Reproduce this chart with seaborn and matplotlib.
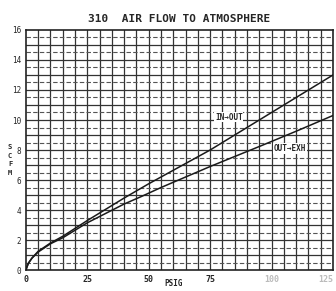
import matplotlib
matplotlib.use("Agg")
import matplotlib.pyplot as plt
import seaborn as sns
import numpy as np
import pandas as pd

# curve readings (psig, scfm)
psig_in = [0, 1, 2.5, 5, 10, 15, 25, 40, 50, 60, 75, 96, 110, 125]
scfm_in = [0, 0.45, 0.8, 1.25, 1.8, 2.25, 3.3, 4.8, 5.75, 6.65, 8.0, 10.1, 11.5, 13.0]
psig_out = [0, 1, 2.5, 5, 10, 15, 25, 40, 47, 55, 75, 96, 110, 125]
scfm_out = [0, 0.45, 0.8, 1.2, 1.75, 2.15, 3.15, 4.4, 4.9, 5.5, 6.9, 8.3, 9.25, 10.3]
x_ticks = [0, 25, 50, 75, 100, 125]
y_ticks = [0, 2, 4, 6, 8, 10, 12, 14, 16]

df = pd.concat([
    pd.DataFrame({"psig": psig_in, "scfm": scfm_in, "path": "IN-OUT"}),
    pd.DataFrame({"psig": psig_out, "scfm": scfm_out, "path": "OUT-EXH"}),
])

sns.set_style("white")
plt.rcParams['font.family'] = ['DejaVu Sans Mono', 'DejaVu Sans']

fig = plt.figure(figsize=(3.36, 2.91), dpi=100)
ax = fig.add_axes([0.077, 0.072, 0.914, 0.825])

# grid
for v in np.arange(5, 125, 5):
    ax.axvline(v, color="#333333", lw=0.9, zorder=1)
for h in np.arange(1, 16, 1):
    ax.axhline(h, color="#333333", lw=0.9, zorder=1)
for h in np.arange(0.5, 16, 1):
    ax.axhline(h, color="#555555", lw=0.8, ls=(0, (4, 2)), zorder=1)

sns.lineplot(data=df, x="psig", y="scfm", units="path", estimator=None,
             color="#1a1a1a", lw=1.1, legend=False, ax=ax, zorder=3)

ax.set_xlim(0, 125)
ax.set_ylim(0, 16)
ax.set_xticks(x_ticks)
ax.set_yticks(y_ticks)
ax.set_xticklabels([str(t) for t in x_ticks], fontsize=6, fontweight="bold")
xl = ax.get_xticklabels()
for lab in xl[4:]:
    lab.set_color("#bbbbbb")
xl[-1].set_ha("right")
ax.set_yticklabels([str(t) for t in y_ticks], fontsize=5.5)
ax.tick_params(length=2, pad=1.5)
for s in ax.spines.values():
    s.set_color("#222222")
    s.set_linewidth(1.2)

ax.set_xlabel("")
ax.set_ylabel("")
fig.text(0.518, 0.012, "PSIG", fontsize=5.5, fontweight="bold", ha="center", va="bottom")
fig.text(0.03, 0.45, "S\nC\nF\nM", fontsize=5, fontweight="bold", ha="center",
         va="center", linespacing=1.5)
ax.set_title("310  AIR FLOW TO ATMOSPHERE", fontsize=8, fontweight="bold", pad=6)

ax.text(77, 10.2, "IN\u2192OUT", fontsize=5.5, fontweight="bold", va="center",
        zorder=4, bbox=dict(fc="white", ec="none", pad=0.5))
ax.text(101, 8.1, "OUT\u2192EXH", fontsize=5.5, fontweight="bold", va="center",
        zorder=4, bbox=dict(fc="white", ec="none", pad=0.5))

fig.savefig("out.png", dpi=100)
